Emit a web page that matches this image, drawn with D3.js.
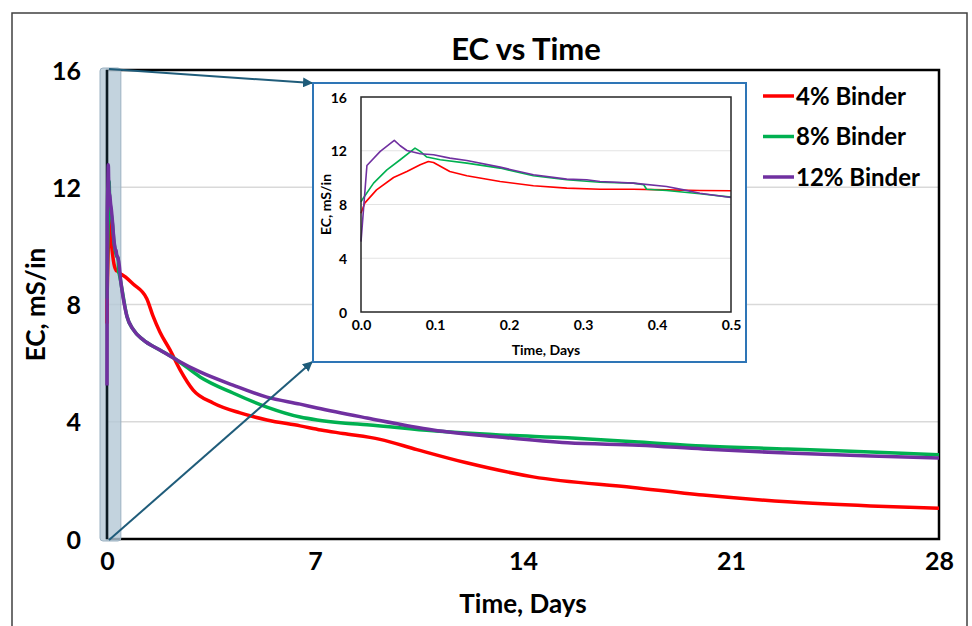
<!DOCTYPE html>
<html lang="en">
<head>
<meta charset="UTF-8">
<title>EC vs Time</title>
<script src="https://d3js.org/d3.v7.min.js"></script>
<style>
  body { margin: 0; background: #fff; }
  svg text { font-family: Lato, "Open Sans", sans-serif; font-weight: bold; fill: #000; }
</style>
</head>
<body>
<svg id="chart" width="972" height="626"></svg>
<script>
// [time in days, EC in mS/in]
const binder4 = [[0,7.35],[0.005,8.1],[0.021,9.09],[0.044,10.01],[0.062,10.46],[0.08,10.96],[0.091,11.2],[0.098,11.13],
  [0.12,10.46],[0.143,10.14],[0.188,9.71],[0.233,9.39],[0.278,9.22],[0.323,9.14],[0.368,9.14],[0.413,9.09],[0.458,9.04],
  [0.5,9.02],[0.88,8.7],[1.34,8.2],[1.55,7.6],[1.78,7.06],[2.12,6.45],[2.46,5.77],[2.9,5.08],[3.57,4.64],[4.48,4.3],
  [5.38,4.06],[6.5,3.86],[7.2,3.72],[7.94,3.6],[9.19,3.4],[10.43,3.05],[12.1,2.6],[14.34,2.12],[17.7,1.76],[20.06,1.5],
  [22.9,1.27],[25.7,1.13],[28,1.05]];
const binder8 = [[0,8.2],[0.003,8.47],[0.017,9.59],[0.035,10.58],[0.053,11.33],[0.073,12.2],[0.08,11.95],[0.089,11.53],
  [0.107,11.33],[0.143,11.08],[0.188,10.71],[0.233,10.14],[0.278,9.84],[0.323,9.66],[0.368,9.59],[0.382,9.47],[0.386,9.14],
  [0.413,9.04],[0.458,8.8],[0.5,8.55],[0.67,7.6],[0.88,7.15],[1.21,6.8],[1.78,6.45],[2.36,6.1],[3.13,5.53],[4.24,4.98],
  [5.38,4.5],[6.5,4.16],[7.07,4.06],[7.94,3.96],[8.75,3.9],[10.97,3.69],[13.2,3.55],[15.5,3.45],[17.9,3.31],[20.06,3.17],
  [22.9,3.07],[25.7,2.97],[28,2.87]];
const binder12 = [[0,5.24],[0.008,10.9],[0.026,11.95],[0.045,12.77],[0.053,12.37],[0.062,12.02],[0.08,11.78],[0.098,11.7],
  [0.12,11.45],[0.143,11.28],[0.188,10.78],[0.233,10.21],[0.278,9.89],[0.305,9.84],[0.323,9.71],[0.368,9.59],[0.413,9.34],
  [0.436,9.09],[0.458,8.84],[0.5,8.52],[0.67,7.6],[0.88,7.15],[1.21,6.8],[1.78,6.45],[2.36,6.1],[3.13,5.7],[4.24,5.25],
  [5.38,4.84],[6.5,4.6],[7.07,4.47],[8.75,4.13],[10.97,3.72],[13.2,3.48],[15.5,3.28],[17.9,3.2],[20.06,3.07],[22.9,2.93],
  [25.7,2.83],[28,2.76]];

const seriesNames = ["4% Binder", "8% Binder", "12% Binder"];
const seriesColors = ["#ff0000", "#00b050", "#7030a0"];
const xTicks = [0, 7, 14, 21, 28];
const yTicks = [0, 4, 8, 12, 16];
const insetXTicks = [0, 0.1, 0.2, 0.3, 0.4, 0.5];
const zoomEnd = 0.5;

const allSeries = [binder4, binder8, binder12];
const svg = d3.select("#chart");

// outer chart frame
svg.append("rect").attr("x", 12).attr("y", 13).attr("width", 955).attr("height", 640)
  .attr("fill", "#fff").attr("stroke", "#404040").attr("stroke-width", 1.5);

// main plot
const x = d3.scaleLinear().domain([0, 28]).range([107, 939]);
const y = d3.scaleLinear().domain([0, 16]).range([539, 70]);

svg.append("g").selectAll("line").data(yTicks.filter(d => d > 0 && d < 16)).enter().append("line")
  .attr("x1", x(0)).attr("x2", x(28)).attr("y1", d => y(d)).attr("y2", d => y(d))
  .attr("stroke", "#d9d9d9").attr("stroke-width", 1.5);

svg.append("rect").attr("x", x(0)).attr("y", y(16)).attr("width", x(28) - x(0)).attr("height", y(0) - y(16))
  .attr("fill", "none").attr("stroke", "#000").attr("stroke-width", 2.5);

// y axis labels
const yAxis = svg.append("g").attr("transform", `translate(${x(0)},0)`)
  .call(d3.axisLeft(y).tickValues(yTicks).tickSize(0).tickPadding(26).tickFormat(d3.format("d")));
yAxis.select(".domain").remove();
yAxis.selectAll("text").style("font-size", "25px").attr("dy", "0.36em");

const xAxis = svg.append("g").attr("transform", `translate(0,${y(0)})`)
  .call(d3.axisBottom(x).tickValues(xTicks).tickSize(0).tickPadding(26).tickFormat(d3.format("d")));
xAxis.select(".domain").remove();
xAxis.selectAll("text").style("font-size", "25px").attr("dy", "0.2em");

// zoom region highlight
svg.append("rect").attr("x", x(0) - 7).attr("y", y(16) - 2)
  .attr("width", x(zoomEnd) - x(0) + 6).attr("height", y(0) - y(16) + 4)
  .attr("rx", 3).attr("fill", "#b4c8d6").attr("fill-opacity", 0.8)
  .attr("stroke", "#9cb2c2").attr("stroke-width", 1);
svg.append("line").attr("x1", x(0)).attr("x2", x(0)).attr("y1", y(16)).attr("y2", y(0))
  .attr("stroke", "#0b1a22").attr("stroke-width", 2.5);

const line = d3.line().x(d => x(d[0])).y(d => y(d[1])).curve(d3.curveMonotoneX);
svg.append("g").selectAll("path").data(allSeries).enter().append("path")
  .attr("d", line).attr("fill", "none")
  .attr("stroke", (d, i) => seriesColors[i]).attr("stroke-width", 3.5).attr("stroke-linejoin", "round");

// title and axis titles
svg.append("text").attr("x", (x(0) + x(28)) / 2 + 3).attr("y", 60).attr("text-anchor", "middle")
  .style("font-size", "31px").text("EC vs Time");
svg.append("text").attr("x", (x(0) + x(28)) / 2).attr("y", 613).attr("text-anchor", "middle")
  .style("font-size", "26px").text("Time, Days");
svg.append("text").attr("transform", `translate(45,${(y(0) + y(16)) / 2}) rotate(-90)`)
  .attr("text-anchor", "middle").style("font-size", "26px").text("EC, mS/in");

// legend
const legend = svg.append("g").selectAll("g").data(seriesNames).enter().append("g")
  .attr("transform", (d, i) => `translate(763,${96 + i * 40.5})`);
legend.append("line").attr("x1", 0).attr("x2", 31).attr("stroke", (d, i) => seriesColors[i]).attr("stroke-width", 3.5);
legend.append("text").attr("x", 33).attr("dy", "0.36em").style("font-size", "24px").text(d => d);

// inset
const box = { left: 313, top: 83, right: 746, bottom: 362 };
const xi = d3.scaleLinear().domain([0, zoomEnd]).range([361, 731]);
const yi = d3.scaleLinear().domain([0, 16]).range([312, 97]);

// arrows to inset
const defs = svg.append("defs");
defs.append("marker").attr("id", "arrow").attr("viewBox", "0 0 10 10").attr("refX", 9).attr("refY", 5)
  .attr("markerWidth", 5).attr("markerHeight", 5).attr("orient", "auto")
  .append("path").attr("d", "M0,0L10,5L0,10z").attr("fill", "#1f5c7a");
svg.append("line").attr("x1", x(0) + 2).attr("y1", y(16) - 1).attr("x2", box.left - 1).attr("y2", box.top)
  .attr("stroke", "#1f5c7a").attr("stroke-width", 2).attr("marker-end", "url(#arrow)");
svg.append("line").attr("x1", x(0) + 2).attr("y1", y(0) + 1).attr("x2", box.left - 1).attr("y2", box.bottom)
  .attr("stroke", "#1f5c7a").attr("stroke-width", 2).attr("marker-end", "url(#arrow)");

svg.append("rect").attr("x", box.left).attr("y", box.top)
  .attr("width", box.right - box.left).attr("height", box.bottom - box.top)
  .attr("fill", "#fff").attr("stroke", "#2e75b6").attr("stroke-width", 2);

const inset = svg.append("g");
inset.append("g").selectAll("line").data(yTicks.filter(d => d > 0 && d < 16)).enter().append("line")
  .attr("x1", xi(0)).attr("x2", xi(zoomEnd)).attr("y1", d => yi(d)).attr("y2", d => yi(d))
  .attr("stroke", "#e3e3e3").attr("stroke-width", 1);

const lineI = d3.line().x(d => xi(d[0])).y(d => yi(d[1]));
inset.append("g").selectAll("path").data(allSeries.map(s => s.filter(d => d[0] <= zoomEnd))).enter().append("path")
  .attr("d", lineI).attr("fill", "none")
  .attr("stroke", (d, i) => seriesColors[i]).attr("stroke-width", 1.6).attr("stroke-linejoin", "round");

inset.append("rect").attr("x", xi(0)).attr("y", yi(16)).attr("width", xi(zoomEnd) - xi(0)).attr("height", yi(0) - yi(16))
  .attr("fill", "none").attr("stroke", "#262626").attr("stroke-width", 1.5);

const yAxisI = inset.append("g").attr("transform", `translate(${xi(0)},0)`)
  .call(d3.axisLeft(yi).tickValues(yTicks).tickSize(0).tickPadding(14).tickFormat(d3.format("d")));
yAxisI.select(".domain").remove();
yAxisI.selectAll("text").style("font-size", "14px").attr("dy", "0.36em");

const xAxisI = inset.append("g").attr("transform", `translate(0,${yi(0)})`)
  .call(d3.axisBottom(xi).tickValues(insetXTicks).tickSize(0).tickPadding(14).tickFormat(d3.format(".1f")));
xAxisI.select(".domain").remove();
xAxisI.selectAll("text").style("font-size", "14px").attr("dy", "0.3em");

inset.append("text").attr("x", (xi(0) + xi(zoomEnd)) / 2).attr("y", 355).attr("text-anchor", "middle")
  .style("font-size", "14px").text("Time, Days");
inset.append("text").attr("transform", `translate(331,${(yi(0) + yi(16)) / 2}) rotate(-90)`)
  .attr("text-anchor", "middle").style("font-size", "14px").text("EC, mS/in");
</script>
</body>
</html>
